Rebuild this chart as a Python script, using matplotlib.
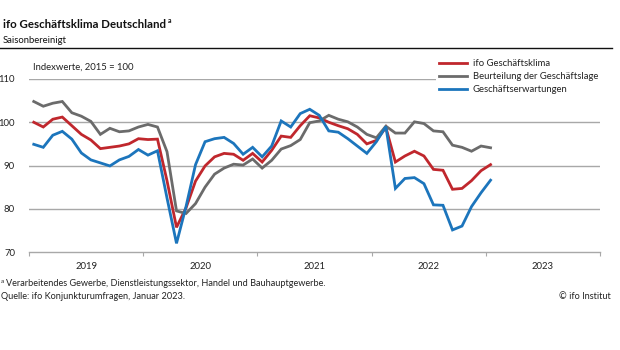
import numpy as np
import matplotlib
matplotlib.use('Agg')
import matplotlib.pyplot as plt

plt.rcParams['font.family'] = ['Lato', 'DejaVu Sans']

# ifo index values, Jan 2019 - Jan 2023 (2015 = 100)
klima = [100.0, 98.9, 100.7, 101.2, 99.2, 97.2, 95.9, 93.9, 94.2, 94.5, 95.0, 96.2,
         96.0, 96.1, 86.5, 75.7, 80.2, 86.4, 89.9, 92.0, 92.8, 92.6, 91.2, 92.8,
         90.8, 93.5, 96.8, 96.5, 99.2, 101.5, 101.0, 100.0, 99.2, 98.5, 97.2, 95.0,
         95.8, 98.8, 90.8, 92.2, 93.3, 92.2, 89.1, 88.9, 84.5, 84.7, 86.5, 88.8,
         90.2]
lage = [104.8, 103.7, 104.4, 104.8, 102.2, 101.4, 100.2, 97.2, 98.6, 97.8, 98.0, 98.9,
        99.5, 98.9, 93.2, 79.5, 78.9, 81.2, 85.0, 88.0, 89.4, 90.3, 90.1, 91.5,
        89.4, 91.2, 93.8, 94.6, 96.0, 99.9, 100.3, 101.6, 100.7, 100.1, 98.9, 97.2,
        96.4, 99.1, 97.5, 97.5, 100.1, 99.7, 98.0, 97.8, 94.7, 94.2, 93.3, 94.5,
        94.1]
erwartungen = [94.9, 94.2, 97.0, 97.9, 96.1, 92.9, 91.3, 90.6, 89.9, 91.3, 92.1, 93.7,
               92.4, 93.4, 82.5, 72.0, 80.5, 90.2, 95.5, 96.2, 96.5, 95.1, 92.6, 94.2,
               92.0, 94.5, 100.3, 98.9, 102.0, 103.0, 101.6, 98.0, 97.7, 96.2, 94.5, 92.8,
               95.5, 99.0, 84.7, 87.0, 87.2, 85.8, 80.9, 80.8, 75.1, 76.0, 80.5, 83.7,
               86.6]
years = ['2019', '2020', '2021', '2022', '2023']
y_ticks = [70, 80, 90, 100, 110]

series_labels = ['ifo Geschäftsklima', 'Beurteilung der Geschäftslage', 'Geschäftserwartungen']
colors = ['#c0272d', '#6b6b6b', '#1c75bc']

W, H = 620, 350


def fx(px):
    return px / W


def fy(py):
    return 1 - py / H


fig = plt.figure(figsize=(W / 100, H / 100), dpi=100)
ax = fig.add_axes([fx(29), fy(252), fx(600) - fx(29), fy(79) - fy(252)])

x = np.arange(len(klima)) + 0.5
handles = []
for vals, c, lab in zip([klima, lage, erwartungen], colors, series_labels):
    h, = ax.plot(x, vals, color=c, lw=2.0, label=lab, solid_joinstyle='miter', zorder=3)
    handles.append(h)

ax.set_xlim(0, 12 * len(years))
ax.set_ylim(70, 110)
for v in y_ticks[1:]:
    ax.axhline(v, color='#a8a8a8', lw=1.0, zorder=1)

for s in ['top', 'right', 'left']:
    ax.spines[s].set_visible(False)
ax.spines['bottom'].set_color('#a8a8a8')
ax.spines['bottom'].set_linewidth(1.0)

ax.set_yticks(y_ticks)
ax.set_yticklabels([str(v) for v in y_ticks])
ax.tick_params(axis='y', length=0, pad=10, labelsize=6.8, colors='#222222')

ax.set_xticks(np.arange(0, 12 * len(years) + 1, 12))
ax.set_xticklabels([])
ax.tick_params(axis='x', which='major', length=3, width=0.8, color='#a8a8a8')
ax.set_xticks(np.arange(len(years)) * 12 + 6, minor=True)
ax.set_xticklabels(years, minor=True)
ax.tick_params(axis='x', which='minor', length=0, pad=7.5, labelsize=6.8, colors='#222222')

# titles
fig.text(fx(3), fy(28), 'ifo Geschäftsklima Deutschland', fontsize=8.3, fontweight='bold',
         va='baseline', ha='left', color='#111111')
fig.text(fx(168), fy(23), 'a', fontsize=5, fontweight='bold', va='baseline', ha='left', color='#111111')
fig.text(fx(3), fy(43), 'Saisonbereinigt', fontsize=6.8, va='baseline', ha='left', color='#111111')
fig.add_artist(plt.Line2D([0, fx(612)], [fy(48), fy(48)], color='#111111', lw=1.0))

fig.text(fx(33), fy(70), 'Indexwerte, 2015 = 100', fontsize=6.8, va='baseline', ha='left', color='#222222')

leg = fig.legend(handles=handles, loc='upper left', bbox_to_anchor=(fx(436), fy(56)),
                 frameon=True, fontsize=6.8, handlelength=3.0, handletextpad=0.6,
                 labelspacing=0.45, borderpad=0.3, borderaxespad=0)
leg.get_frame().set_facecolor('white')
leg.get_frame().set_edgecolor('none')
leg.get_frame().set_alpha(1)
for t in leg.get_texts():
    t.set_color('#222222')

# footer
fig.text(fx(1), fy(283), 'a', fontsize=4.5, va='baseline', ha='left', color='#222222')
fig.text(fx(6), fy(286), 'Verarbeitendes Gewerbe, Dienstleistungssektor, Handel und Bauhauptgewerbe.',
         fontsize=6.6, va='baseline', ha='left', color='#222222')
fig.text(fx(1), fy(299), 'Quelle: ifo Konjunkturumfragen, Januar 2023.', fontsize=6.6,
         va='baseline', ha='left', color='#222222')
fig.text(fx(611), fy(299), '© ifo Institut', fontsize=6.6, va='baseline', ha='right', color='#222222')

fig.savefig('out.png', dpi=100, facecolor='white')
